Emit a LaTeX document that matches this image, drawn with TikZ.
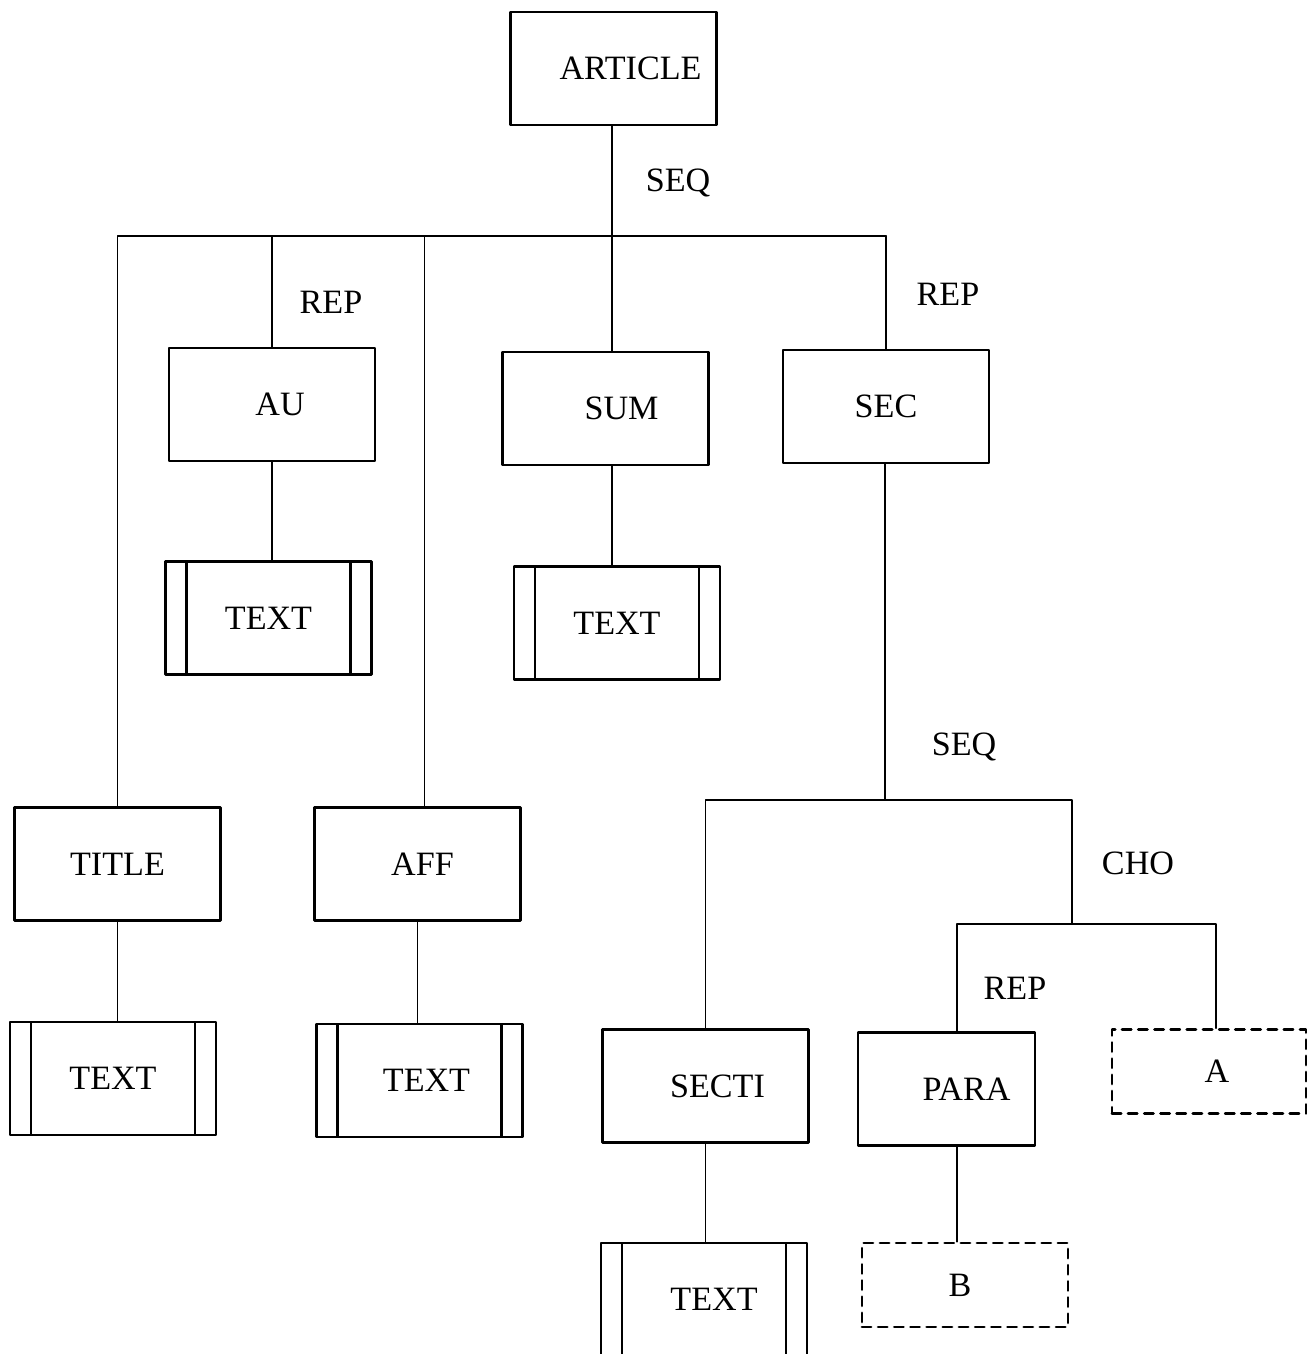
\documentclass[tikz,border=0pt]{standalone}
\usepackage{fontspec}
\setmainfont{Liberation Serif}
\begin{document}
\begin{tikzpicture}[
  x=0.01cm, y=-0.01cm,
  line cap=round,
  line join=round,
  every node/.style={font=\fontsize{9.7}{11}\selectfont},
  elem/.style={draw, line width=0.8pt, minimum width=2.06cm,
    minimum height=1.13cm, inner sep=0pt},
  leaf/.style={elem, path picture={
    \draw[line width=0.8pt]
      ([xshift=0.21cm]path picture bounding box.north west) --
      ([xshift=0.21cm]path picture bounding box.south west)
      ([xshift=-0.21cm]path picture bounding box.north east) --
      ([xshift=-0.21cm]path picture bounding box.south east);}},
  ref/.style={elem, dash pattern=on 2.6pt off 2pt, minimum height=0.84cm},
  link/.style={line width=0.55pt}
]
  \useasboundingbox (0,0) rectangle (1308,1354);

  % element boxes
  \node[elem] (article) at (613.5,68.5) {\hspace*{0.34cm}ARTICLE};
  \node[elem] (au) at (272,404.5) {\hspace*{0.16cm}AU};
  \node[leaf] (autext) at (268.5,618) {TEXT};
  \node[elem] (sum) at (605.5,408.5) {\hspace*{0.32cm}SUM};
  \node[leaf] (sumtext) at (617,623) {TEXT};
  \node[elem] (sec) at (886,406.5) {SEC};
  \node[elem] (title) at (117.5,864) {TITLE};
  \node[leaf] (titletext) at (113,1078.5) {TEXT};
  \node[elem] (aff) at (417.5,864) {\hspace*{0.1cm}AFF};
  \node[leaf] (afftext) at (419.5,1080.5) {\hspace*{0.14cm}TEXT};
  \node[elem] (secti) at (705.5,1086) {\hspace*{0.24cm}SECTI};
  \node[leaf] (sectitext) at (704,1299.5) {\hspace*{0.2cm}TEXT};
  \node[elem, minimum width=1.77cm] (para) at (946.5,1089) {\hspace*{0.4cm}PARA};
  \node[ref, minimum width=1.94cm] (a) at (1209,1071.5) {\hspace*{0.16cm}A};
  \node[ref] (b) at (965,1285) {\hspace*{-0.1cm}B};

  % connector labels
  \node (seqtop) at (678,183) {SEQ};
  \node (repau) at (331,302) {REP};
  \node (repsec) at (948,294) {REP};
  \node (seqsec) at (964,747) {SEQ};
  \node (cho) at (1138,863) {CHO};
  \node (reppara) at (1015,988) {REP};

  % bars
  \coordinate (bartop) at (612,236);
  \coordinate (barsec) at (885,800);
  \coordinate (barcho) at (1072,924);
  \coordinate (paraline) at (957,924);
  \coordinate (aline) at (1216,924);

  \draw[link] (article.south -| bartop) -- (bartop);
  \draw[link] (title.north) |- (sec.north |- bartop);
  \foreach \n in {au,sec}
    \draw[link] (\n.north) -- (\n.north |- bartop);
  \draw[link] ([xshift=0.07cm]aff.north) -- ([xshift=0.07cm]aff.north |- bartop);
  \draw[link] (sum.north -| bartop) -- (bartop);

  \draw[link] (sec.south -| barsec) -- (barsec);
  \draw[link] (secti.north) |- (barcho |- barsec) -- (barcho);
  \draw[link] (para.north -| paraline) -- (paraline) -- (aline)
    -- (a.north -| aline);

  \foreach \p/\c in {au/autext,title/titletext,
                     aff/afftext,secti/sectitext}
    \draw[link] (\p.south) -- (\p.south |- \c.north);
  \draw[link] (sum.south -| bartop) -- (sumtext.north -| bartop);
  \draw[link] (para.south -| paraline) -- (b.north -| paraline);
\end{tikzpicture}
\end{document}
